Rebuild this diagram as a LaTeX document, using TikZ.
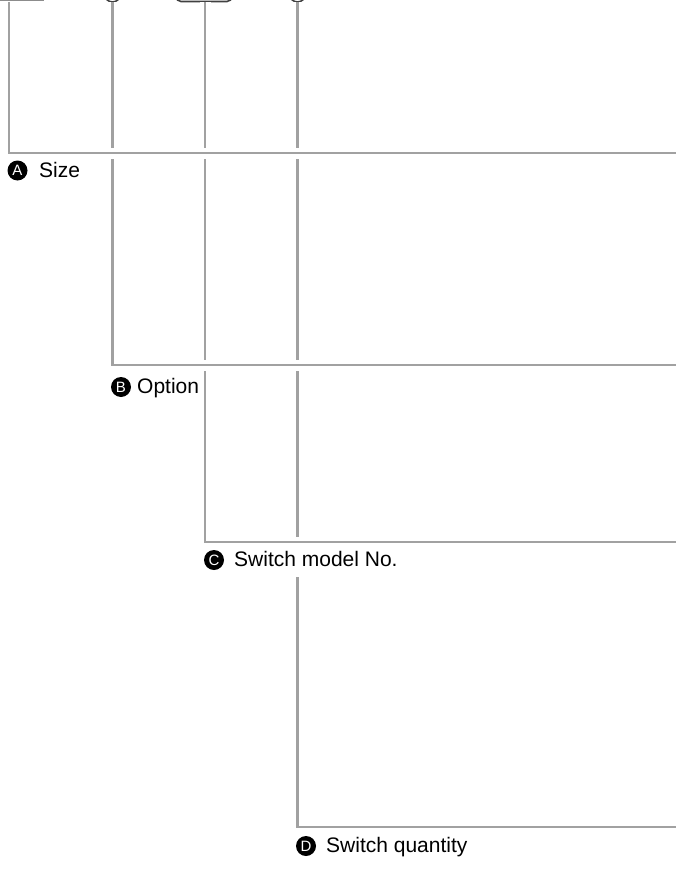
\documentclass[tikz,border=0pt]{standalone}
\usepackage{fontspec}
\setmainfont{Liberation Sans}
\begin{document}
\begin{tikzpicture}[x=1pt,y=-1pt,
  lead/.style={draw=black!37, line width=2.2pt, line join=miter,
    preaction={draw=white, line width=11pt}},
  topmark/.style={draw=black!75, line width=1.6pt},
  badge/.style={circle, fill=black, text=white, inner sep=0pt, minimum size=20pt,
    font=\fontsize{15}{15}\selectfont},
  lbl/.style={fill=white, inner xsep=4pt, inner ysep=4pt, text height=15pt, text depth=6pt,
    anchor=base west, font=\fontsize{21}{25}\selectfont}
]
\useasboundingbox (0,0) rectangle (676,888);
% top marks (clipped by the frame)
\begin{scope}
\clip (0,0) rectangle (676,888);
\draw[draw=black!45, line width=1.4pt] (-20,-30) rectangle (43,0.8);
\draw[topmark] (112.5,-6) circle (8);
\draw[topmark, rounded corners=5pt] (176,-30) rectangle (232,1.5);
\draw[topmark] (297.5,-6) circle (8);
% leader lines, drawn from the last to the first
\coordinate (d0) at (297.5,2);
\coordinate (d1) at (297.5,827);
\coordinate (d2) at (680,827);
\coordinate (c0) at (205,2);
\coordinate (c1) at (205,542);
\coordinate (c2) at (680,542);
\coordinate (b0) at (112.5,2);
\coordinate (b1) at (112.5,365);
\coordinate (b2) at (680,365);
\coordinate (a0) at (8.7,2);
\coordinate (a1) at (8.7,153);
\coordinate (a2) at (680,153);
\draw[lead] (d0) -- (d1) -- (d2);
\draw[lead] (c0) -- (c1) -- (c2);
\draw[lead] (b0) -- (b1) -- (b2);
\draw[lead] (a0) -- (a1) -- (a2);
\end{scope}
% labels
\node[badge] (ca) at (17.5,170.5) {A};
\node[lbl] (ta) at (35,177) {Size};
\node[badge] (cb) at (121,387) {B};
\node[lbl] (tb) at (133,393.5) {Option};
\node[badge] (cc) at (214,560) {C};
\node[lbl] (tc) at (230,566.5) {Switch model No.};
\node[badge] (cd) at (306,846) {D};
\node[lbl] (td) at (322,852.5) {Switch quantity};
\end{tikzpicture}
\end{document}
